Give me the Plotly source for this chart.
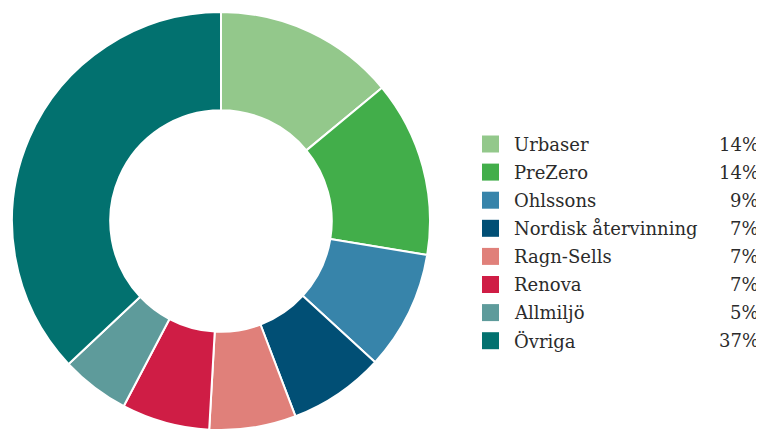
import plotly.graph_objects as go

labels = ["Urbaser", "PreZero", "Ohlssons", "Nordisk återvinning", "Ragn-Sells",
          "Renova", "Allmiljö", "Övriga"]
values = [14.0, 13.6, 9.2, 7.4, 6.7, 6.8, 5.3, 37.0]
colors = ["#93c88b", "#42ae4a", "#3784aa", "#014f75", "#e0807a",
          "#cf1d45", "#5e9b9b", "#02716f"]
pct_labels = [f"{round(v)}%" for v in values]

# page has an 8px body margin; figure sits at (8, 8)
OFF = 8
W, H = 764 - OFF, 430 - OFF
FONT = "DejaVu Serif"
TXT = "#2b2b2b"


def px(x):
    return (x - OFF) / W


def py(y):
    return 1 - (y - OFF) / H


fig = go.Figure(go.Pie(
    labels=labels, values=values, sort=False, direction="clockwise", rotation=0,
    hole=0.53, marker=dict(colors=colors, line=dict(color="white", width=2)),
    textinfo="none", hoverinfo="label+percent", showlegend=False,
    domain=dict(x=[px(9), px(433)], y=[0, py(12)]),
))

shapes, annotations = [], []
row0, step, sq = 144, 28.1, 17
for i, (lab, col, pct) in enumerate(zip(labels, colors, pct_labels)):
    yc = row0 + i * step
    shapes.append(dict(type="rect", xref="paper", yref="paper",
                       x0=px(482), x1=px(482 + sq),
                       y0=py(yc - sq / 2), y1=py(yc + sq / 2),
                       fillcolor=col, line=dict(width=0)))
    annotations.append(dict(xref="paper", yref="paper", x=px(512), y=py(yc),
                            xanchor="left", yanchor="middle", text=lab, showarrow=False,
                            font=dict(family=FONT, size=18, color=TXT)))
    annotations.append(dict(xref="paper", yref="paper", x=px(761), y=py(yc),
                            xanchor="right", yanchor="middle", text=pct, showarrow=False,
                            font=dict(family=FONT, size=18, color=TXT)))

fig.update_layout(width=W, height=H, margin=dict(l=0, r=0, t=0, b=0),
                  paper_bgcolor="white", plot_bgcolor="white",
                  shapes=shapes, annotations=annotations,
                  font=dict(family=FONT, color=TXT))
fig.write_html("out.html")
